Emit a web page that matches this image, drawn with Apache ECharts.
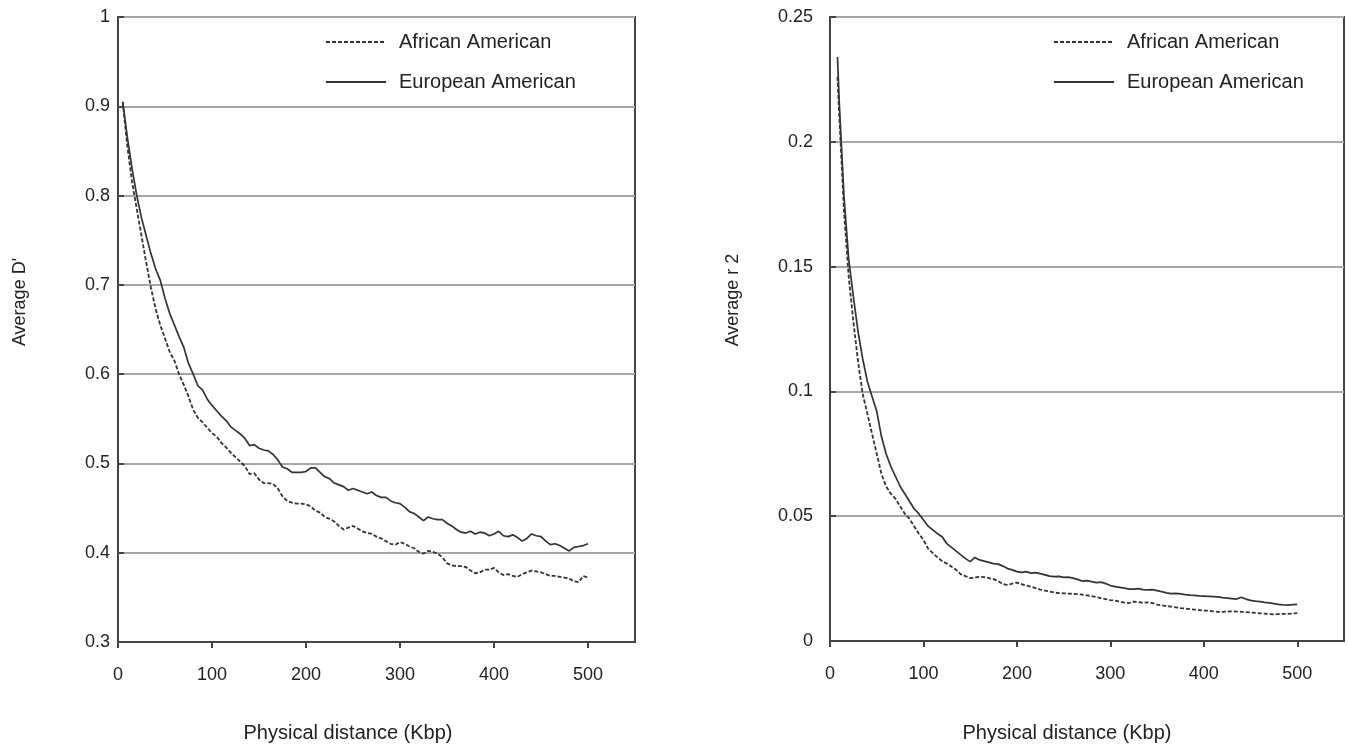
<!DOCTYPE html>
<html>
<head>
<meta charset="utf-8">
<script src="https://cdn.jsdelivr.net/npm/echarts@6/dist/echarts.min.js"></script>
<style>
  html, body { margin: 0; padding: 0; background: #fff; }
  #main { width: 1349px; height: 747px; }
</style>
</head>
<body>
<div id="main"></div>
<script>
// physical distance (Kbp)
var distance = [5, 10, 15, 20, 25, 30, 35, 40, 45, 50, 55, 60, 65, 70, 75, 80, 85, 90, 95, 100,
    105, 110, 115, 120, 125, 130, 135, 140, 145, 150, 155, 160, 165, 170, 175, 180, 185, 190, 195, 200,
    205, 210, 215, 220, 225, 230, 235, 240, 245, 250, 255, 260, 265, 270, 275, 280, 285, 290, 295, 300,
    305, 310, 315, 320, 325, 330, 335, 340, 345, 350, 355, 360, 365, 370, 375, 380, 385, 390, 395, 400,
    405, 410, 415, 420, 425, 430, 435, 440, 445, 450, 455, 460, 465, 470, 475, 480, 485, 490, 495, 500];
var distanceR2 = [8].concat(distance.slice(1));

// average D'
var dEuropean = [0.905, 0.865, 0.83, 0.80, 0.775, 0.755, 0.735, 0.718, 0.705, 0.685,
    0.668, 0.655, 0.642, 0.63, 0.612, 0.60, 0.587, 0.582, 0.572, 0.565,
    0.559, 0.553, 0.548, 0.541, 0.537, 0.533, 0.528, 0.52, 0.521, 0.517,
    0.515, 0.514, 0.51, 0.504, 0.496, 0.494, 0.49, 0.49, 0.49, 0.491,
    0.495, 0.495, 0.49, 0.485, 0.483, 0.478, 0.476, 0.474, 0.47, 0.472,
    0.47, 0.468, 0.466, 0.468, 0.464, 0.462, 0.462, 0.458, 0.456, 0.455,
    0.451, 0.446, 0.444, 0.44, 0.436, 0.44, 0.438, 0.437, 0.437, 0.433,
    0.43, 0.426, 0.423, 0.422, 0.424, 0.421, 0.423, 0.422, 0.419, 0.421,
    0.424, 0.419, 0.418, 0.42, 0.417, 0.413, 0.416, 0.421, 0.419, 0.418,
    0.413, 0.409, 0.41, 0.408, 0.405, 0.402, 0.406, 0.407, 0.408, 0.41];
var dAfrican = [0.905, 0.855, 0.815, 0.785, 0.755, 0.725, 0.697, 0.673, 0.655, 0.64,
    0.625, 0.615, 0.60, 0.588, 0.575, 0.56, 0.551, 0.546, 0.54, 0.534,
    0.53, 0.523, 0.518, 0.512, 0.507, 0.502, 0.497, 0.488, 0.489, 0.482,
    0.478, 0.478, 0.477, 0.472, 0.463, 0.458, 0.456, 0.455, 0.455, 0.454,
    0.452, 0.447, 0.445, 0.44, 0.438, 0.435, 0.43, 0.426, 0.428, 0.43,
    0.427, 0.424, 0.422, 0.421, 0.418, 0.416, 0.413, 0.41, 0.409, 0.412,
    0.41, 0.407, 0.405, 0.401, 0.399, 0.402, 0.401, 0.399, 0.395, 0.388,
    0.386, 0.385, 0.385, 0.384, 0.38, 0.377, 0.378, 0.381, 0.381, 0.383,
    0.378, 0.375, 0.376, 0.374, 0.373, 0.376, 0.378, 0.38, 0.379, 0.378,
    0.376, 0.374, 0.374, 0.373, 0.372, 0.371, 0.368, 0.367, 0.374, 0.372];

// average r2
var r2European = [0.234, 0.215, 0.178, 0.153, 0.138, 0.124, 0.113, 0.104, 0.098, 0.092,
    0.082, 0.075, 0.070, 0.066, 0.062, 0.059, 0.056, 0.053, 0.051, 0.0485,
    0.046, 0.0445, 0.043, 0.0418, 0.039, 0.0375, 0.036, 0.0345, 0.033, 0.0318,
    0.0335, 0.0325, 0.032, 0.0315, 0.031, 0.0308, 0.030, 0.029, 0.0285, 0.0278,
    0.0275, 0.0278, 0.0272, 0.0274, 0.027, 0.0265, 0.026, 0.0258, 0.0259, 0.0255,
    0.0256, 0.0252, 0.0247, 0.024, 0.0242, 0.0238, 0.0234, 0.0236, 0.023, 0.0222,
    0.0218, 0.0215, 0.0212, 0.0208, 0.0208, 0.021, 0.0206, 0.0205, 0.0206, 0.0202,
    0.0198, 0.0193, 0.019, 0.0191, 0.0189, 0.0186, 0.0184, 0.0183, 0.0181, 0.018,
    0.0179, 0.0178, 0.0177, 0.0174, 0.0172, 0.017, 0.0168, 0.0175, 0.0168, 0.0163,
    0.016, 0.0158, 0.0155, 0.0153, 0.015, 0.0147, 0.0145, 0.0144, 0.0146, 0.0147];
var r2African = [0.226, 0.21, 0.172, 0.146, 0.128, 0.112, 0.099, 0.091, 0.083, 0.075,
    0.067, 0.062, 0.059, 0.057, 0.054, 0.051, 0.049, 0.046, 0.043, 0.0405,
    0.037, 0.0352, 0.0335, 0.032, 0.031, 0.0298, 0.0285, 0.0267, 0.026, 0.0252,
    0.0254, 0.0258, 0.0256, 0.0252, 0.0248, 0.024, 0.0228, 0.0224, 0.023, 0.0234,
    0.0228, 0.0222, 0.0218, 0.0212, 0.0206, 0.0202, 0.0198, 0.0194, 0.0192, 0.0191,
    0.019, 0.0189, 0.0188, 0.0186, 0.0183, 0.018, 0.0176, 0.0172, 0.0168, 0.0164,
    0.0162, 0.0158, 0.0154, 0.0152, 0.0158, 0.0156, 0.0153, 0.0155, 0.0152, 0.0146,
    0.0143, 0.014, 0.0138, 0.0135, 0.0132, 0.013, 0.0128, 0.0126, 0.0124, 0.0122,
    0.0122, 0.0119, 0.0117, 0.0117, 0.0118, 0.0119, 0.0118, 0.0117, 0.0116, 0.0114,
    0.0113, 0.0111, 0.011, 0.0108, 0.0107, 0.0108, 0.0109, 0.0109, 0.011, 0.0112];

var xTicks = [0, 100, 200, 300, 400, 500];

function pairs(xs, ys) {
    var out = [];
    for (var i = 0; i < ys.length; i++) out.push([xs[i], ys[i]]);
    return out;
}

var font = '"Liberation Sans", Arial, sans-serif';
var ink = '#333';

function xAxisFor(idx) {
    return {
        type: 'value', gridIndex: idx, min: 0, max: 550,
        axisLine: { show: true, lineStyle: { color: '#444', width: 2 } },
        axisTick: { show: true, inside: false, length: 6, customValues: xTicks, lineStyle: { color: '#444', width: 2 } },
        axisLabel: { customValues: xTicks, margin: 24, fontSize: 18, color: '#222', fontFamily: font },
        splitLine: { show: false }
    };
}
function yAxisFor(idx, min, max, step, gap) {
    return {
        type: 'value', gridIndex: idx, min: min, max: max, interval: step,
        axisLine: { show: true, lineStyle: { color: '#444', width: 2 } },
        axisTick: { show: true, inside: true, length: 6, lineStyle: { color: '#444', width: 2 } },
        axisLabel: { margin: gap, fontSize: 18, color: '#222', fontFamily: font },
        splitLine: { show: true, lineStyle: { color: '#a6a6a6', width: 2 } }
    };
}
function legendFor(left) {
    return {
        left: left, top: 27, orient: 'vertical', itemWidth: 60, itemHeight: 12, itemGap: 20,
        data: ['African American', 'European American'],
        itemStyle: { opacity: 0 },
        textStyle: { fontSize: 20, color: '#222', fontFamily: font, padding: [0, 0, 0, 8] },
        selectedMode: false
    };
}
function lineFor(name, xi, data, dashed) {
    return {
        name: name, type: 'line', xAxisIndex: xi, yAxisIndex: xi, data: data,
        symbol: 'none', showSymbol: false, animation: false,
        lineStyle: { color: ink, width: dashed ? 1.8 : 1.7, type: dashed ? [4, 2] : 'solid' },
        itemStyle: { color: ink }
    };
}

var myChart = echarts.init(document.getElementById('main'));
var option = {
    backgroundColor: '#fff',
    animation: false,
    grid: [
        { left: 118, top: 17, width: 517, height: 625, show: true, borderColor: '#444', borderWidth: 2, backgroundColor: 'transparent' },
        { left: 830, top: 17, width: 514, height: 624, show: true, borderColor: '#444', borderWidth: 2, backgroundColor: 'transparent' }
    ],
    legend: [legendFor(320), legendFor(1048)],
    xAxis: [xAxisFor(0), xAxisFor(1)],
    yAxis: [yAxisFor(0, 0.3, 1, 0.1, 8), yAxisFor(1, 0, 0.25, 0.05, 17)],
    graphic: [
        { type: 'text', x: 348, y: 733, style: { text: 'Physical distance (Kbp)', fontSize: 20, fontFamily: font, fill: '#222', textAlign: 'center', textVerticalAlign: 'middle' } },
        { type: 'text', x: 1067, y: 733, style: { text: 'Physical distance (Kbp)', fontSize: 20, fontFamily: font, fill: '#222', textAlign: 'center', textVerticalAlign: 'middle' } },
        { type: 'text', x: 20, y: 302, rotation: Math.PI / 2, style: { text: "Average D'", fontSize: 18, fontFamily: font, fill: '#222', textAlign: 'center', textVerticalAlign: 'middle' } },
        { type: 'text', x: 733, y: 300, rotation: Math.PI / 2, style: { text: 'Average r 2', fontSize: 18, fontFamily: font, fill: '#222', textAlign: 'center', textVerticalAlign: 'middle' } }
    ],
    series: [
        lineFor('African American', 0, pairs(distance, dAfrican), true),
        lineFor('European American', 0, pairs(distance, dEuropean), false),
        lineFor('African American', 1, pairs(distanceR2, r2African), true),
        lineFor('European American', 1, pairs(distanceR2, r2European), false)
    ]
};
myChart.setOption(option);
</script>
</body>
</html>
